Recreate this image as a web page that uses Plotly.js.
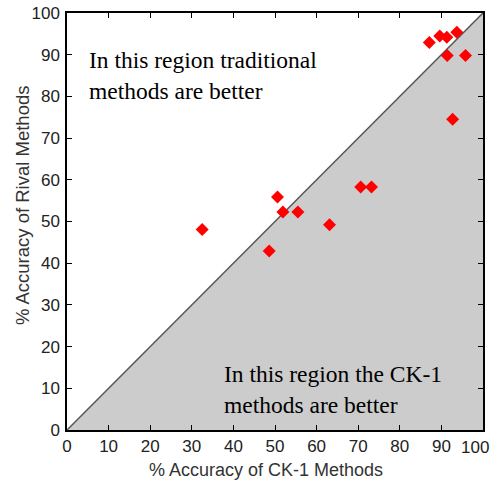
<!DOCTYPE html>
<html>
<head>
<meta charset="utf-8">
<script src="https://cdn.plot.ly/plotly-3.0.1.min.js"></script>
<style>html,body{margin:0;padding:0;background:#fff;}#chart{width:491px;height:482px;}</style>
</head>
<body>
<div id="chart"></div>
<script>
const ck1Accuracy = [87.1, 89.6, 91.3, 93.7, 91.4, 95.8, 92.7, 70.6, 73.2, 50.6, 51.9, 55.5, 63.1, 32.5, 48.6];
const rivalAccuracy = [92.9, 94.5, 94.2, 95.4, 89.8, 89.8, 74.5, 58.3, 58.3, 55.9, 52.3, 52.3, 49.2, 48.1, 42.9];
const tickValues = [0, 10, 20, 30, 40, 50, 60, 70, 80, 90, 100];
const xTickText = ['0', '10', '20', '30', '40', '50', '60', '70', '80', '90', ''];
const yTickText = ['0', '10', '20', '30', '40', '50', '60', '70', '80', '90', '100'];
const regionX = [0, 100, 100, 0];
const regionY = [0, 100, 0, 0];
const diagX = [0, 100];
const diagY = [0, 100];

const traces = [
  {x: regionX, y: regionY, type: 'scatter', mode: 'lines', fill: 'toself', fillcolor: '#cccccc', line: {width: 0, color: 'rgba(0,0,0,0)'}, hoverinfo: 'skip'},
  {x: diagX, y: diagY, type: 'scatter', mode: 'lines', line: {color: '#555', width: 1.5}},
  {x: ck1Accuracy, y: rivalAccuracy, type: 'scatter', mode: 'markers', marker: {symbol: 'diamond', size: 10, color: '#ff0000'}}
];

const sans = 'Liberation Sans, Arial, sans-serif';
const tickFont = {family: sans, size: 17, color: '#222'};
const axisCommon = {
  range: [0, 100], tickvals: tickValues, ticks: 'inside', ticklen: 5, tickcolor: '#000',
  showline: true, linecolor: '#000', linewidth: 1.5, mirror: 'ticks', showgrid: false, zeroline: false,
  tickfont: tickFont
};

const layout = {
  width: 491, height: 482,
  margin: {l: 67, r: 8, t: 13, b: 52},
  showlegend: false,
  paper_bgcolor: '#fff', plot_bgcolor: '#fff',
  xaxis: Object.assign({}, axisCommon, {ticktext: xTickText}),
  yaxis: Object.assign({}, axisCommon, {ticktext: yTickText, ticklabelstandoff: 2}),
  annotations: [
    {x: 1, y: 0, xref: 'paper', yref: 'paper', xanchor: 'right', yanchor: 'middle', xshift: 8, yshift: -17, showarrow: false,
     text: '100', font: tickFont},
    {x: -0.108, y: 0.5395, xref: 'paper', yref: 'paper', xanchor: 'center', yanchor: 'middle', textangle: -90, showarrow: false,
     text: '% Accuracy of Rival Methods', font: {family: sans, size: 18.5, color: '#333'}},
    {x: 0.4772, y: -0.096, xref: 'paper', yref: 'paper', xanchor: 'center', yanchor: 'middle', showarrow: false,
     text: '% Accuracy of CK-1 Methods', font: {family: sans, size: 18, color: '#333'}},
    {x: 4.8, y: 84.9, xref: 'x', yref: 'y', xanchor: 'left', yanchor: 'middle', align: 'left', showarrow: false,
     text: 'In this region traditional<br>methods are better', font: {family: 'Liberation Serif, Times New Roman, serif', size: 23.5, color: '#000'}},
    {x: 37.3, y: 9.8, xref: 'x', yref: 'y', xanchor: 'left', yanchor: 'middle', align: 'left', showarrow: false,
     text: 'In this region the CK-1<br>methods are better', font: {family: 'Liberation Serif, Times New Roman, serif', size: 23.5, color: '#000'}}
  ]
};

Plotly.newPlot('chart', traces, layout, {displayModeBar: false});
</script>
</body>
</html>
